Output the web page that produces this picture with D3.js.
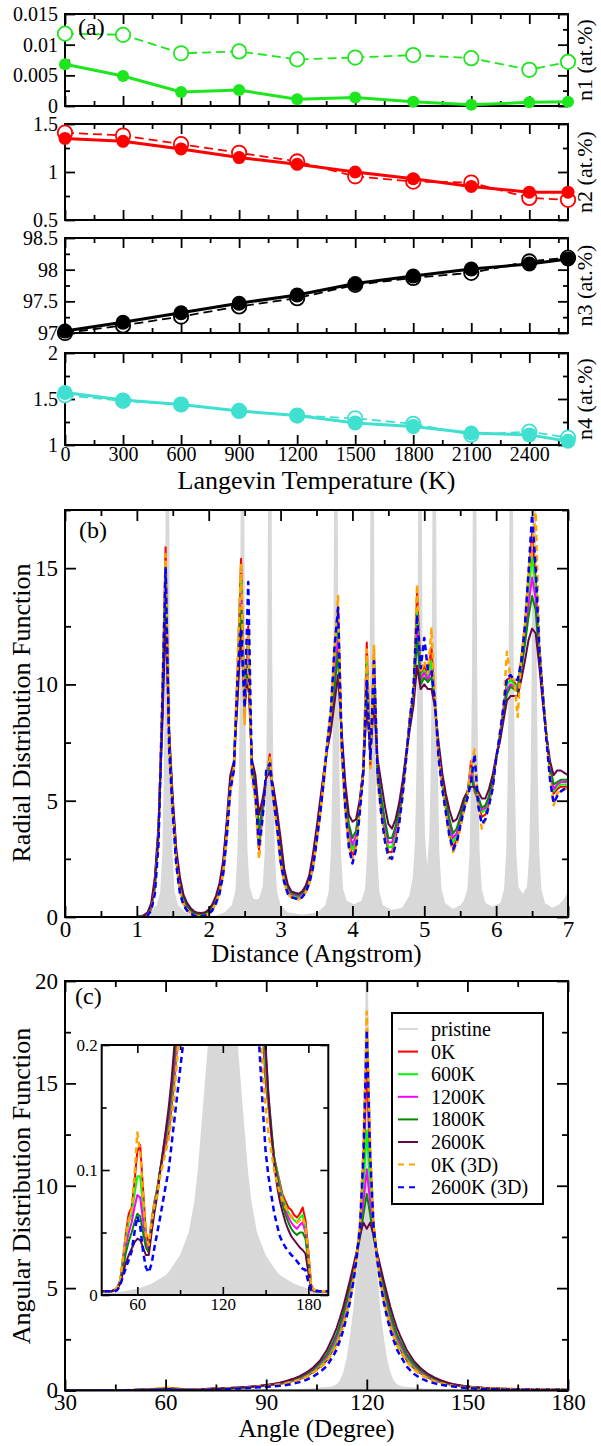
<!DOCTYPE html>
<html lang="en">
<head>
<meta charset="UTF-8">
<script src="https://d3js.org/d3.v7.min.js"></script>
<title>Defects, RDF and ADF</title>
<style>
  body { margin: 0; background: #fff; }
  svg text { font-family: "Liberation Serif", "Times New Roman", Times, serif; fill: #000; }
</style>
</head>
<body>
<svg id="chart" width="601" height="1446"></svg>
<script>
// ---------- panel (a): defect concentrations vs Langevin temperature ----------
const temps = [0, 300, 600, 900, 1200, 1500, 1800, 2100, 2400, 2600];
const n1Solid = [0.0068, 0.0049, 0.0023, 0.0026, 0.0011, 0.0014, 0.0007, 0.0002, 0.0006, 0.0007];
const n1Open  = [0.0118, 0.0116, 0.0086, 0.0089, 0.0076, 0.0079, 0.0083, 0.0078, 0.0059, 0.0072];
const n2Solid = [1.35, 1.32, 1.24, 1.15, 1.08, 1.00, 0.93, 0.85, 0.79, 0.79];
const n2Open  = [1.41, 1.38, 1.29, 1.20, 1.11, 0.955, 0.90, 0.89, 0.73, 0.71];
const n3Solid = [97.03, 97.17, 97.32, 97.47, 97.60, 97.78, 97.90, 98.01, 98.09, 98.17];
const n3Open  = [97.00, 97.12, 97.26, 97.42, 97.55, 97.76, 97.87, 97.95, 98.13, 98.19];
const n4Solid = [1.57, 1.49, 1.44, 1.37, 1.32, 1.24, 1.20, 1.13, 1.11, 1.04];
const n4Open  = [1.54, 1.48, 1.44, 1.37, 1.32, 1.29, 1.23, 1.11, 1.145, 1.08];
const tempMajor = [0, 300, 600, 900, 1200, 1500, 1800, 2100, 2400];
const tempMinor = [150, 450, 750, 1050, 1350, 1650, 1950, 2250, 2550];

// ---------- panel (b): radial distribution function ----------
const rdfStart = 1.0, rdfStep = 0.05;   // r grid 1.00 .. 7.00
const rdf0K = [
  0, 0.01, 0.03, 0.10, 0.35, 1.2, 3.4, 9.0, 15.9, 7.5,
  4.6, 2.4, 1.2, 0.6, 0.35, 0.2, 0.1, 0.06, 0.05, 0.08,
  0.18, 0.35, 0.65, 1.1, 1.9, 3.6, 5.6, 6.4, 10.5, 15.4,
  8.6, 12.5, 6.2, 5.2, 2.9, 4.4, 6.0, 7.0, 5.2, 4.0,
  2.5, 1.6, 1.1, 0.9, 0.85, 0.8, 0.9, 1.1, 1.5, 2.2,
  3.3, 4.5, 5.8, 7.4, 8.6, 11.0, 13.3, 7.2, 4.8, 3.3,
  2.6, 3.1, 4.6, 6.2, 11.8, 6.5, 11.5, 6.0, 4.6, 3.6,
  2.8, 2.8, 3.4, 4.2, 5.4, 7.0, 8.6, 9.6, 14.0, 10.4,
  10.8, 10.4, 11.6, 9.0, 7.0, 5.7, 4.7, 3.6, 3.0, 3.3,
  4.0, 4.7, 5.3, 6.7, 5.4, 5.0, 4.3, 4.4, 4.9, 5.6,
  6.8, 7.8, 8.9, 10.2, 10.3, 10.1, 9.9, 11.1, 12.4, 14.5,
  16.5, 14.5, 11.6, 9.6, 7.8, 6.2, 5.3, 5.5, 5.6, 5.6, 5.6];
const rdf600K = [
  0, 0.01, 0.04, 0.12, 0.4, 1.3, 3.5, 8.8, 15.0, 7.6,
  4.7, 2.5, 1.3, 0.7, 0.4, 0.22, 0.12, 0.08, 0.07, 0.1,
  0.2, 0.38, 0.7, 1.2, 2.0, 3.7, 5.7, 6.5, 10.2, 14.6,
  8.9, 12.0, 6.4, 5.4, 3.2, 4.5, 6.0, 6.8, 5.3, 4.1,
  2.7, 1.7, 1.2, 0.95, 0.9, 0.85, 0.95, 1.15, 1.6, 2.3,
  3.4, 4.6, 5.9, 7.4, 8.5, 10.6, 12.6, 7.4, 5.0, 3.6,
  2.9, 3.3, 4.7, 6.3, 11.0, 6.7, 10.9, 6.2, 4.8, 3.8,
  3.0, 3.0, 3.6, 4.4, 5.5, 7.0, 8.5, 9.6, 13.2, 10.3,
  10.6, 10.3, 11.0, 9.0, 7.1, 5.8, 4.8, 3.8, 3.2, 3.5,
  4.1, 4.8, 5.3, 6.4, 5.5, 5.0, 4.5, 4.6, 5.0, 5.7,
  6.8, 7.8, 8.8, 10.0, 10.2, 10.0, 9.9, 11.0, 12.3, 14.0,
  15.5, 14.2, 11.5, 9.6, 7.8, 6.3, 5.4, 5.6, 5.7, 5.7, 5.7];
const rdf1200K = [
  0, 0.02, 0.05, 0.14, 0.45, 1.4, 3.6, 8.5, 14.3, 7.7,
  4.8, 2.6, 1.4, 0.75, 0.45, 0.25, 0.14, 0.1, 0.09, 0.12,
  0.22, 0.4, 0.75, 1.25, 2.1, 3.8, 5.8, 6.5, 9.9, 13.9,
  9.0, 11.5, 6.5, 5.5, 3.5, 4.6, 6.0, 6.6, 5.4, 4.2,
  2.9, 1.8, 1.25, 1.0, 0.95, 0.9, 1.0, 1.2, 1.65, 2.4,
  3.5, 4.7, 6.0, 7.4, 8.4, 10.2, 12.0, 7.6, 5.2, 3.8,
  3.1, 3.5, 4.8, 6.3, 10.4, 6.8, 10.4, 6.3, 5.0, 4.0,
  3.2, 3.2, 3.7, 4.5, 5.6, 7.0, 8.4, 9.5, 12.5, 10.2,
  10.5, 10.2, 10.6, 9.0, 7.2, 5.9, 4.9, 4.0, 3.4, 3.6,
  4.2, 4.8, 5.3, 6.2, 5.5, 5.1, 4.6, 4.7, 5.1, 5.8,
  6.8, 7.7, 8.7, 9.8, 10.0, 9.9, 9.8, 10.8, 12.0, 13.4,
  14.6, 13.7, 11.3, 9.5, 7.8, 6.4, 5.5, 5.7, 5.8, 5.8, 5.8];
const rdf1800K = [
  0, 0.02, 0.06, 0.16, 0.5, 1.5, 3.7, 8.2, 13.8, 7.8,
  4.9, 2.7, 1.5, 0.8, 0.5, 0.3, 0.17, 0.12, 0.11, 0.14,
  0.25, 0.45, 0.8, 1.3, 2.2, 3.9, 5.9, 6.6, 9.6, 13.3,
  9.1, 11.0, 6.6, 5.7, 3.8, 4.8, 6.0, 6.4, 5.5, 4.4,
  3.1, 1.9, 1.3, 1.05, 1.0, 0.95, 1.05, 1.25, 1.7, 2.5,
  3.6, 4.8, 6.1, 7.3, 8.2, 9.8, 11.4, 7.8, 5.4, 4.0,
  3.4, 3.7, 4.9, 6.3, 9.9, 6.9, 9.9, 6.4, 5.2, 4.2,
  3.4, 3.4, 3.9, 4.6, 5.7, 7.0, 8.3, 9.4, 12.0, 10.0,
  10.3, 10.1, 10.3, 9.0, 7.3, 6.0, 5.0, 4.2, 3.6, 3.8,
  4.3, 4.9, 5.3, 6.0, 5.5, 5.2, 4.7, 4.8, 5.2, 5.9,
  6.8, 7.6, 8.6, 9.6, 9.9, 9.8, 9.7, 10.6, 11.7, 12.9,
  13.8, 13.2, 11.1, 9.4, 7.8, 6.5, 5.7, 5.8, 5.9, 5.9, 5.9];
const rdf2600K = [
  0, 0.03, 0.08, 0.2, 0.6, 1.7, 3.9, 7.8, 12.8, 8.0,
  5.1, 2.9, 1.7, 0.95, 0.6, 0.38, 0.24, 0.18, 0.17, 0.2,
  0.32, 0.55, 0.9, 1.45, 2.4, 4.1, 6.1, 6.7, 9.2, 12.4,
  9.2, 10.3, 6.8, 6.1, 4.4, 5.1, 6.0, 6.2, 5.6, 4.6,
  3.4, 2.1, 1.4, 1.1, 1.05, 1.0, 1.1, 1.35, 1.8, 2.7,
  3.8, 5.0, 6.2, 7.2, 8.0, 9.2, 10.4, 8.0, 5.8, 4.4,
  4.1, 4.2, 5.0, 6.3, 9.0, 7.1, 9.2, 6.8, 5.8, 4.8,
  4.0, 3.8, 4.2, 4.9, 5.9, 7.1, 8.1, 9.1, 10.8, 9.8,
  10.0, 9.8, 9.8, 9.0, 7.5, 6.2, 5.3, 4.6, 4.1, 4.2,
  4.6, 5.1, 5.4, 5.6, 5.6, 5.4, 5.1, 5.1, 5.5, 6.1,
  6.9, 7.5, 8.4, 9.3, 9.5, 9.5, 9.5, 10.2, 11.0, 11.9,
  12.4, 12.2, 10.8, 9.2, 7.8, 6.7, 6.1, 6.3, 6.3, 6.2, 6.1];
const rdf0K3D = [
  0, 0.01, 0.02, 0.08, 0.3, 1.1, 3.3, 9.2, 15.6, 7.3,
  4.5, 2.3, 1.1, 0.55, 0.3, 0.17, 0.08, 0.04, 0.03, 0.06,
  0.15, 0.3, 0.6, 1.05, 1.85, 3.5, 5.5, 6.4, 10.8, 15.2,
  8.3, 12.2, 6.0, 5.0, 2.5, 4.2, 6.1, 6.9, 5.0, 3.8,
  2.3, 1.5, 1.0, 0.85, 0.8, 0.75, 0.85, 1.05, 1.45, 2.1,
  3.2, 4.4, 5.8, 7.5, 8.8, 11.4, 13.8, 7.0, 4.6, 3.1,
  2.5, 3.0, 4.5, 6.3, 11.5, 6.4, 11.7, 5.8, 4.4, 3.4,
  2.5, 2.6, 3.2, 4.0, 5.2, 6.9, 8.6, 9.8, 14.3, 10.5,
  11.0, 10.5, 12.4, 9.1, 6.9, 5.6, 4.5, 3.4, 2.8, 3.1,
  3.8, 4.5, 5.2, 6.5, 7.2, 4.9, 3.8, 4.2, 4.8, 5.5,
  6.8, 7.9, 9.0, 11.4, 10.3, 10.2, 8.6, 11.2, 12.6, 14.8,
  16.0, 17.4, 11.8, 9.6, 7.7, 6.0, 4.8, 5.3, 5.5, 5.5, 5.5];
const rdf2600K3D = [
  0, 0.0, 0.02, 0.07, 0.28, 1.0, 3.1, 8.6, 15.0, 7.2,
  4.4, 2.2, 1.0, 0.5, 0.27, 0.14, 0.06, 0.03, 0.02, 0.05,
  0.13, 0.28, 0.58, 1.0, 1.8, 3.4, 5.4, 6.3, 10.2, 12.4,
  9.0, 14.4, 6.3, 5.3, 3.0, 4.3, 6.3, 6.6, 5.1, 3.9,
  2.4, 1.5, 1.0, 0.85, 0.8, 0.75, 0.85, 1.05, 1.45, 2.1,
  3.2, 4.4, 5.8, 7.5, 8.9, 11.6, 13.3, 7.6, 4.7, 3.0,
  2.3, 2.9, 4.4, 6.1, 10.2, 6.8, 11.0, 6.2, 4.5, 3.3,
  2.6, 2.5, 3.1, 4.0, 5.3, 6.9, 8.5, 9.9, 13.0, 10.7,
  12.0, 10.6, 10.6, 9.2, 6.8, 5.5, 4.5, 3.5, 2.9, 3.2,
  3.9, 4.6, 5.1, 5.8, 7.0, 4.8, 4.0, 4.2, 4.8, 5.5,
  6.8, 7.8, 9.0, 10.3, 10.4, 10.2, 10.2, 11.0, 12.5, 14.8,
  17.3, 15.0, 11.6, 9.5, 7.6, 5.9, 4.9, 5.2, 5.4, 5.5, 5.5];
// pristine graphene RDF, [r, g(r)] pairs
const rdfPristine = [
  [1.0,0],[1.175,0.2],[1.275,0.5],[1.325,1.1],[1.355,2.8],[1.375,6],[1.39,11],[1.40,18],[1.41,28],[1.425,40],
  [1.44,28],[1.45,18],[1.46,11],[1.475,6],[1.495,2.8],[1.525,1.1],[1.575,0.5],[1.675,0.2],[1.8,0.05],[2.1,0.05],
  [2.22,0.2],[2.32,0.5],[2.37,1.1],[2.40,2.8],[2.42,6],[2.435,11],[2.445,18],[2.455,28],[2.47,40],[2.485,28],
  [2.495,18],[2.505,11],[2.52,6],[2.54,2.8],[2.57,1.3],[2.62,0.8],[2.66,0.75],[2.70,0.8],[2.75,1.3],[2.78,2.8],
  [2.80,6],[2.815,11],[2.825,18],[2.835,28],[2.85,40],[2.865,28],[2.875,18],[2.885,11],[2.90,6],[2.92,2.8],
  [2.95,1.1],[3.0,0.5],[3.1,0.2],[3.3,0.1],[3.52,0.2],[3.62,0.5],[3.67,1.1],[3.70,2.8],[3.72,6],[3.735,11],
  [3.745,18],[3.755,28],[3.77,40],[3.785,28],[3.795,18],[3.805,11],[3.82,6],[3.84,2.8],[3.87,1.2],[3.92,0.7],
  [4.02,0.55],[4.125,0.7],[4.175,1.2],[4.205,2.8],[4.225,6],[4.24,11],[4.25,18],[4.26,28],[4.275,40],[4.29,28],
  [4.30,18],[4.31,11],[4.325,6],[4.345,2.8],[4.375,1.1],[4.425,0.5],[4.55,0.3],[4.69,0.4],[4.79,0.9],[4.84,1.7],
  [4.87,3.2],[4.89,6.3],[4.905,11.2],[4.915,18.2],[4.925,28],[4.94,40],[4.955,28],[4.965,18.5],[4.975,11.5],[4.99,6.5],
  [5.01,3.5],[5.04,2.2],[5.07,3.5],[5.09,6.5],[5.105,11.5],[5.115,18.5],[5.125,28],[5.14,40],[5.155,28],[5.165,18],
  [5.175,11],[5.19,6],[5.21,2.8],[5.24,1.2],[5.29,0.6],[5.4,0.35],[5.5,0.5],[5.55,0.7],[5.60,1.2],[5.63,2.8],
  [5.65,6],[5.665,11],[5.675,18],[5.685,28],[5.70,40],[5.715,28],[5.725,18],[5.735,11],[5.75,6],[5.77,2.8],
  [5.80,1.2],[5.85,0.6],[5.95,0.45],[6.06,0.6],[6.11,1.2],[6.14,2.8],[6.16,6],[6.175,11],[6.185,18],[6.195,28],
  [6.21,40],[6.225,28],[6.235,18],[6.245,11],[6.26,6],[6.28,2.8],[6.31,1.3],[6.37,1.0],[6.43,1.3],[6.46,2.8],
  [6.48,6],[6.495,11],[6.505,18],[6.515,28],[6.53,40],[6.545,28],[6.555,18],[6.565,11],[6.58,6],[6.60,2.8],
  [6.63,1.2],[6.68,0.6],[6.78,0.4],[6.88,0.55],[6.95,0.8],[7.0,1.1]];

// ---------- panel (c): angular distribution function ----------
const adfDeg = [30,32,34,36,38,40,42,44,46,48, 50,52,54,56,58,60,62,64,66,68,
  70,72,74,76,78,80,82,84,86,88, 90,92,94,96,98,100,102,104,106,108,
  110,111,112,113,114,115,116,117,118,119,120,121,122,123,124,125,126,127,128,129,130,
  132,134,136,138,140,142,144,146,148,150, 152,154,156,158,160,162,164,166,168,170,
  172,174,176,178,180, 182,184,188,194];
const adf0K = [0.003,0.003,0.003,0.003,0.003,0.003,0.003,0.004,0.006,0.012,
  0.03,0.05,0.065,0.07,0.09,0.115,0.12,0.085,0.05,0.04,
  0.06,0.075,0.085,0.1,0.11,0.12,0.13,0.15,0.17,0.2,
  0.23,0.27,0.32,0.38,0.46,0.56,0.7,0.9,1.15,1.45,
  2.0,2.3,2.8,3.3,3.9,4.6,5.5,6.6,8.0,11.0,16.0,11.0,8.0,6.6,5.5,4.6,3.9,3.3,2.8,2.3,2.0,
  1.45,1.1,0.85,0.65,0.5,0.4,0.32,0.26,0.21,0.17,
  0.15,0.13,0.11,0.1,0.09,0.08,0.075,0.07,0.068,0.064,
  0.062,0.065,0.07,0.06,0.035, 0.008,0.004,0.003,0.003];
const adf600K = [0.003,0.003,0.003,0.003,0.003,0.003,0.003,0.004,0.006,0.012,
  0.028,0.045,0.058,0.065,0.08,0.095,0.095,0.07,0.045,0.038,
  0.058,0.074,0.085,0.1,0.11,0.125,0.135,0.155,0.175,0.205,
  0.24,0.28,0.33,0.4,0.48,0.6,0.74,0.95,1.22,1.55,
  2.1,2.45,2.95,3.5,4.1,4.85,5.7,6.7,7.9,10.0,12.7,10.0,7.9,6.7,5.7,4.85,4.1,3.5,2.95,2.45,2.1,
  1.55,1.17,0.9,0.7,0.54,0.43,0.34,0.27,0.22,0.18,
  0.15,0.13,0.11,0.1,0.088,0.078,0.072,0.066,0.062,0.06,
  0.058,0.062,0.064,0.055,0.03, 0.007,0.004,0.003,0.003];
const adf1200K = [0.003,0.003,0.003,0.003,0.003,0.003,0.003,0.004,0.006,0.011,
  0.025,0.04,0.05,0.058,0.07,0.08,0.078,0.06,0.042,0.036,
  0.056,0.072,0.084,0.1,0.112,0.127,0.14,0.16,0.18,0.21,
  0.25,0.29,0.34,0.42,0.5,0.63,0.78,1.0,1.3,1.65,
  2.25,2.6,3.1,3.65,4.3,5.0,5.8,6.7,7.7,9.2,10.8,9.2,7.7,6.7,5.8,5.0,4.3,3.65,3.1,2.6,2.25,
  1.65,1.25,0.95,0.74,0.57,0.45,0.36,0.28,0.23,0.19,
  0.155,0.13,0.11,0.098,0.085,0.075,0.068,0.062,0.058,0.055,
  0.053,0.056,0.058,0.05,0.028, 0.007,0.004,0.003,0.003];
const adf1800K = [0.003,0.003,0.003,0.003,0.003,0.003,0.003,0.004,0.005,0.01,
  0.022,0.034,0.043,0.05,0.058,0.065,0.063,0.05,0.038,0.034,
  0.054,0.07,0.083,0.1,0.115,0.13,0.145,0.165,0.19,0.22,
  0.26,0.3,0.36,0.44,0.53,0.66,0.82,1.05,1.37,1.75,
  2.4,2.75,3.25,3.8,4.45,5.15,5.9,6.7,7.5,8.6,9.6,8.6,7.5,6.7,5.9,5.15,4.45,3.8,3.25,2.75,2.4,
  1.75,1.32,1.0,0.78,0.6,0.47,0.37,0.29,0.24,0.195,
  0.16,0.135,0.11,0.095,0.082,0.072,0.064,0.058,0.053,0.05,
  0.048,0.05,0.05,0.045,0.025, 0.006,0.004,0.003,0.003];
const adf2600K = [0.003,0.003,0.003,0.003,0.003,0.003,0.003,0.004,0.005,0.009,
  0.018,0.026,0.032,0.037,0.042,0.045,0.044,0.038,0.032,0.032,
  0.05,0.066,0.08,0.098,0.115,0.132,0.15,0.172,0.2,0.23,
  0.27,0.32,0.38,0.47,0.57,0.7,0.88,1.12,1.45,1.95,
  2.65,3.05,3.55,4.1,4.75,5.4,6.1,6.8,7.6,8.2,7.9,8.2,7.6,6.8,6.1,5.4,4.75,4.1,3.55,3.05,2.65,
  1.95,1.45,1.1,0.84,0.65,0.5,0.39,0.3,0.245,0.2,
  0.16,0.13,0.105,0.088,0.075,0.066,0.058,0.052,0.047,0.044,
  0.041,0.038,0.036,0.033,0.018, 0.005,0.003,0.003,0.003];
const adf0K3D = [0.003,0.003,0.003,0.003,0.003,0.003,0.003,0.004,0.006,0.012,
  0.03,0.048,0.06,0.068,0.095,0.13,0.115,0.08,0.048,0.04,
  0.058,0.072,0.08,0.095,0.105,0.115,0.125,0.14,0.16,0.19,
  0.22,0.26,0.3,0.36,0.43,0.53,0.66,0.85,1.1,1.4,
  1.9,2.2,2.65,3.15,3.75,4.5,5.4,6.6,8.2,12.0,18.5,12.0,8.2,6.6,5.4,4.5,3.75,3.15,2.65,2.2,1.9,
  1.38,1.03,0.78,0.6,0.46,0.36,0.28,0.22,0.18,0.15,
  0.13,0.115,0.1,0.09,0.082,0.075,0.07,0.066,0.063,0.06,
  0.058,0.06,0.062,0.055,0.03, 0.007,0.004,0.003,0.003];
const adf2600K3D = [0.003,0.003,0.003,0.003,0.003,0.003,0.003,0.003,0.004,0.008,
  0.015,0.022,0.028,0.035,0.05,0.063,0.055,0.035,0.022,0.018,
  0.025,0.038,0.05,0.062,0.075,0.088,0.1,0.12,0.14,0.16,
  0.18,0.2,0.23,0.27,0.33,0.41,0.52,0.68,0.9,1.18,
  1.7,2.0,2.45,2.95,3.6,4.35,5.3,6.5,8.1,11.5,17.6,11.5,8.1,6.5,5.3,4.35,3.6,2.95,2.45,2.0,1.7,
  1.15,0.82,0.6,0.46,0.36,0.28,0.23,0.19,0.15,0.115,
  0.095,0.08,0.066,0.056,0.047,0.042,0.038,0.035,0.032,0.03,
  0.027,0.024,0.021,0.02,0.01, 0.004,0.003,0.003,0.003];
const adfPristine = [[30,0.001],[45,0.002],[60,0.005],[70,0.009],[80,0.016],[83,0.02],[90,0.032],[96,0.05],
  [100,0.075],[102.4,0.1],[106,0.15],[109.5,0.2],[111,0.3],[112,0.5],[113,0.9],[114,1.6],[115,2.7],[116,4.0],
  [116.5,5.0],[117,6.0],[118,8.0],[118.7,11],[119.3,16],[120,24],[120.7,16],[121.3,11],[122,8],[123,6],
  [123.5,5],[124,4],[125,2.7],[126,1.6],[127,0.9],[128,0.5],[129,0.3],[130.5,0.2],[134,0.15],[137.6,0.1],
  [140,0.075],[144,0.05],[150,0.032],[157,0.02],[160,0.016],[170,0.009],[180,0.005],[188,0.003],[195,0.002]];

const seriesNames = ["0K", "600K", "1200K", "1800K", "2600K", "0K (3D)", "2600K (3D)"];
const seriesColors = ["#ff0000", "#00ff00", "#ff00ff", "#008b00", "#670748", "#ffa500", "#0000ff"];
const seriesDashed = [false, false, false, false, false, true, true];
const rdfSeries = [rdf0K, rdf600K, rdf1200K, rdf1800K, rdf2600K, rdf0K3D, rdf2600K3D];
const adfSeries = [adf0K, adf600K, adf1200K, adf1800K, adf2600K, adf0K3D, adf2600K3D];

// ---------- drawing ----------
const FONT = '"Liberation Serif", "Times New Roman", Times, serif';
const svg = d3.select("#chart");
const defs = svg.append("defs");
const X0 = 65, X1 = 568;
const none = () => "";

function clipRect(id, x, y, w, h) {
  defs.append("clipPath").attr("id", id)
    .append("rect").attr("x", x).attr("y", y).attr("width", w).attr("height", h);
  return `url(#${id})`;
}

// frame with inward ticks on all four sides
function axes(x, y, o) {
  const g = svg.append("g");
  const [xl, xr] = x.range();
  const [yb, yt] = y.range();
  const put = (axis, tx, ty) => {
    const a = g.append("g").attr("transform", `translate(${tx},${ty})`).call(axis);
    a.select(".domain").remove();
    a.selectAll("line").attr("stroke", "#000").attr("stroke-width", o.tw || 1.8);
    a.selectAll("text").attr("fill", "#000")
      .style("font-family", FONT).style("font-size", o.fs + "px");
  };
  put(d3.axisBottom(x).tickValues(o.xMajor).tickSize(-o.M).tickPadding(o.xPad)
      .tickFormat(o.xFmt || none), 0, yb);
  put(d3.axisBottom(x).tickValues(o.xMinor).tickSize(-o.m).tickFormat(none), 0, yb);
  put(d3.axisTop(x).tickValues(o.xMajor).tickSize(-o.M).tickFormat(none), 0, yt);
  put(d3.axisTop(x).tickValues(o.xMinor).tickSize(-o.m).tickFormat(none), 0, yt);
  put(d3.axisLeft(y).tickValues(o.yMajor).tickSize(-o.M).tickPadding(o.yPad)
      .tickFormat(o.yFmt || none), xl, 0);
  put(d3.axisLeft(y).tickValues(o.yMinor).tickSize(-o.m).tickFormat(none), xl, 0);
  put(d3.axisRight(y).tickValues(o.yMajor).tickSize(-o.M).tickFormat(none), xr, 0);
  put(d3.axisRight(y).tickValues(o.yMinor).tickSize(-o.m).tickFormat(none), xr, 0);
  g.append("rect").attr("x", xl).attr("y", yt).attr("width", xr - xl).attr("height", yb - yt)
    .attr("fill", "none").attr("stroke", "#000").attr("stroke-width", o.fw || 2);
  return g;
}

function label(txt, x, y, size, opts = {}) {
  const t = svg.append("text").attr("x", x).attr("y", y).style("font-size", size + "px")
    .attr("text-anchor", opts.anchor || "start").text(txt);
  if (opts.rotate) {
    t.attr("x", 0).attr("y", 0).attr("dy", "0.3em")
      .attr("transform", `translate(${x},${y}) rotate(-90)`);
  }
  return t;
}

// ----- panel (a) -----
const xT = d3.scaleLinear().domain([0, 2600]).range([X0, X1]);
const subPanels = [
  { name: "n1 (at.%)", top: 14, bottom: 106, dom: [0, 0.015], major: [0, 0.005, 0.01, 0.015],
    minor: [0.0025, 0.0075, 0.0125], solid: n1Solid, open: n1Open, color: "#1ee61e", r: 6 },
  { name: "n2 (at.%)", top: 124, bottom: 220, dom: [0.5, 1.5], major: [0.5, 1, 1.5],
    minor: [0.75, 1.25], solid: n2Solid, open: n2Open, color: "#ff0000", r: 6.5 },
  { name: "n3 (at.%)", top: 238, bottom: 333, dom: [97, 98.5], major: [97, 97.5, 98, 98.5],
    minor: [97.25, 97.75, 98.25], solid: n3Solid, open: n3Open, color: "#000000", r: 7.5 },
  { name: "n4 (at.%)", top: 353, bottom: 445, dom: [1, 2], major: [1, 1.5, 2],
    minor: [1.25, 1.75], solid: n4Solid, open: n4Open, color: "#40e0d0", r: 7.5 }
];

subPanels.forEach((p, i) => {
  const y = d3.scaleLinear().domain(p.dom).range([p.bottom, p.top]);
  const last = i === subPanels.length - 1;
  axes(xT, y, { xMajor: tempMajor, xMinor: tempMinor, yMajor: p.major, yMinor: p.minor,
    M: 10, m: 5, fs: 20, xPad: 2, yPad: 7, xFmt: last ? d => d : null, yFmt: d => String(d) });
  const line = d3.line().x((d, j) => xT(temps[j])).y(d => y(d));
  const g = svg.append("g");
  g.append("path").attr("d", line(p.open)).attr("fill", "none").attr("stroke", p.color)
    .attr("stroke-width", 1.8).attr("stroke-dasharray", "9,5");
  g.selectAll(".open").data(p.open).join("circle")
    .attr("cx", (d, j) => xT(temps[j])).attr("cy", d => y(d)).attr("r", 7.2)
    .attr("fill", "#fff").attr("stroke", p.color).attr("stroke-width", 1.8);
  g.append("path").attr("d", line(p.solid)).attr("fill", "none").attr("stroke", p.color)
    .attr("stroke-width", 3);
  g.selectAll(".solid").data(p.solid).join("circle")
    .attr("cx", (d, j) => xT(temps[j])).attr("cy", d => y(d)).attr("r", p.r)
    .attr("fill", p.color);
  label(p.name, 585, (p.top + p.bottom) / 2, 22, { rotate: true, anchor: "middle" });
});
label("(a)", 78, 35, 24);
label("Langevin Temperature (K)", (X0 + X1) / 2, 489, 26, { anchor: "middle" });

// ----- panel (b) -----
const xR = d3.scaleLinear().domain([0, 7]).range([X0, X1]);
const yR = d3.scaleLinear().domain([0, 17.5]).range([917, 510]);
const clipB = clipRect("clipB", X0, 510, X1 - X0, 917 - 510);
const gB = svg.append("g").attr("clip-path", clipB);
gB.append("path")
  .attr("d", d3.area().x(d => xR(d[0])).y0(yR(0)).y1(d => yR(d[1]))(rdfPristine))
  .attr("fill", "#d8d8d8");
const rdfLine = d3.line().x((d, j) => xR(rdfStart + j * rdfStep)).y(d => yR(d));
rdfSeries.forEach((s, k) => {
  gB.append("path").attr("d", rdfLine(s)).attr("fill", "none")
    .attr("stroke", seriesColors[k]).attr("stroke-width", seriesDashed[k] ? 2.5 : 2)
    .attr("stroke-linejoin", "round")
    .attr("stroke-dasharray", seriesDashed[k] ? "6,4" : null);
});
axes(xR, yR, { xMajor: [0, 1, 2, 3, 4, 5, 6, 7], xMinor: [0.5, 1.5, 2.5, 3.5, 4.5, 5.5, 6.5],
  yMajor: [0, 5, 10, 15], yMinor: [2.5, 7.5, 12.5, 17.5], M: 11, m: 6, fs: 23, xPad: 4, yPad: 7,
  xFmt: d => d, yFmt: d => d });
label("(b)", 79, 538, 24);
label("Distance (Angstrom)", (X0 + X1) / 2, 962, 25, { anchor: "middle" });
label("Radial Distribution Function", 22, 713, 26, { rotate: true, anchor: "middle" });

// ----- panel (c) -----
const xA = d3.scaleLinear().domain([30, 180]).range([X0, X1]);
const yA = d3.scaleLinear().domain([0, 20]).range([1390.5, 981]);
const clipC = clipRect("clipC", X0, 981, X1 - X0, 1390.5 - 981);
const gC = svg.append("g").attr("clip-path", clipC);
gC.append("path")
  .attr("d", d3.area().x(d => xA(d[0])).y0(yA(0)).y1(d => yA(d[1]))(adfPristine))
  .attr("fill", "#d8d8d8");
const adfLine = (xs, ys) => d3.line().x((d, j) => xs(adfDeg[j])).y(d => ys(d));
adfSeries.forEach((s, k) => {
  gC.append("path").attr("d", adfLine(xA, yA)(s)).attr("fill", "none")
    .attr("stroke", seriesColors[k]).attr("stroke-width", seriesDashed[k] ? 2.5 : 2)
    .attr("stroke-linejoin", "round")
    .attr("stroke-dasharray", seriesDashed[k] ? "6,4" : null);
});
axes(xA, yA, { xMajor: [30, 60, 90, 120, 150, 180], xMinor: [45, 75, 105, 135, 165],
  yMajor: [0, 5, 10, 15, 20], yMinor: [2.5, 7.5, 12.5, 17.5], M: 11, m: 6, fs: 23, xPad: 3, yPad: 7,
  xFmt: d => d, yFmt: d => d });
label("(c)", 75, 1004, 24);
label("Angle (Degree)", (X0 + X1) / 2, 1437, 25, { anchor: "middle" });
label("Angular Distribution Function", 22, 1186, 26, { rotate: true, anchor: "middle" });

// legend
const leg = svg.append("g");
leg.append("rect").attr("x", 392).attr("y", 1013).attr("width", 151).attr("height", 191)
  .attr("fill", "#fff").attr("stroke", "#000").attr("stroke-width", 2);
const legRows = [{ name: "pristine", color: "#d8d8d8", dashed: false }]
  .concat(seriesNames.map((n, k) => ({ name: n, color: seriesColors[k], dashed: seriesDashed[k] })));
legRows.forEach((r, i) => {
  const yy = 1029 + i * 22.6;
  leg.append("line").attr("x1", 398).attr("x2", 418).attr("y1", yy).attr("y2", yy)
    .attr("stroke", r.color).attr("stroke-width", 2)
    .attr("stroke-dasharray", r.dashed ? "6,5" : null);
  leg.append("text").attr("x", 431).attr("y", yy).attr("dy", "0.35em")
    .style("font-size", "20px").text(r.name);
});

// inset
const xI = d3.scaleLinear().domain([35, 194]).range([101.7, 328.3]);
const yI = d3.scaleLinear().domain([0, 0.2]).range([1295, 1045]);
svg.append("rect").attr("x", 101.7).attr("y", 1045).attr("width", 328.3 - 101.7)
  .attr("height", 250).attr("fill", "#fff");
const clipI = clipRect("clipI", 101.7, 1045, 328.3 - 101.7, 250);
const gI = svg.append("g").attr("clip-path", clipI);
gI.append("path")
  .attr("d", d3.area().x(d => xI(d[0])).y0(yI(0)).y1(d => yI(d[1]))(adfPristine))
  .attr("fill", "#d8d8d8");
adfSeries.forEach((s, k) => {
  gI.append("path").attr("d", adfLine(xI, yI)(s)).attr("fill", "none")
    .attr("stroke", seriesColors[k]).attr("stroke-width", seriesDashed[k] ? 2.5 : 2)
    .attr("stroke-linejoin", "round")
    .attr("stroke-dasharray", seriesDashed[k] ? "6,4" : null);
});
axes(xI, yI, { xMajor: [60, 120, 180], xMinor: [90, 150], yMajor: [0, 0.1, 0.2], yMinor: [0.05, 0.15],
  M: 8, m: 5, fs: 17, xPad: 3, yPad: 4, xFmt: d => d, yFmt: d => String(d), tw: 1.6, fw: 2 });
</script>
</body>
</html>
